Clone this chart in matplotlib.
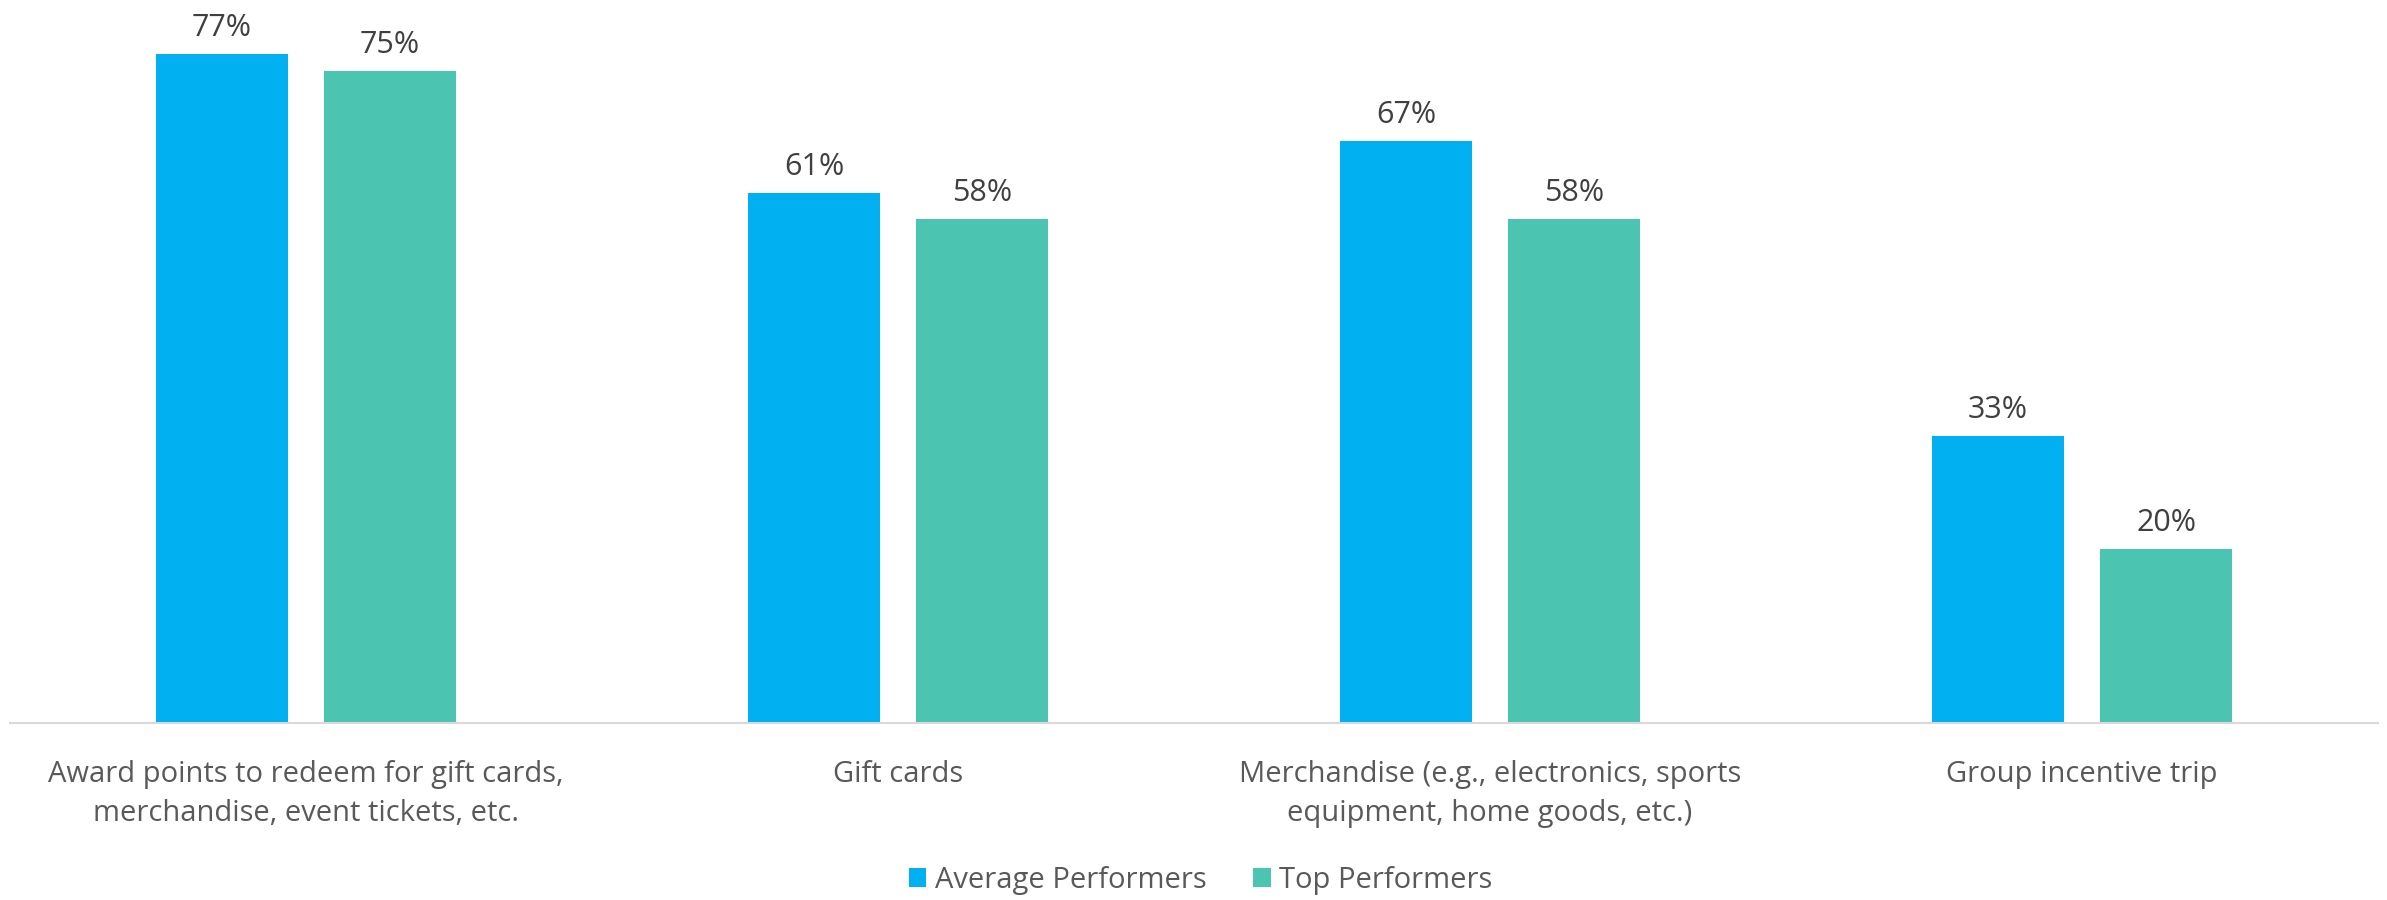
import numpy as np
import matplotlib.pyplot as plt

plt.rcParams['font.family'] = ['Open Sans', 'DejaVu Sans']

# 数据
categories = ['Award points to redeem for gift cards,\nmerchandise, event tickets, etc.',
              'Gift cards',
              'Merchandise (e.g., electronics, sports\nequipment, home goods, etc.)',
              'Group incentive trip']
average = [77, 61, 67, 33]
top = [75, 58, 58, 20]
series_names = ['Average Performers', 'Top Performers']
colors = ['#00B0F0', '#4BC4B2']

fig = plt.figure(figsize=(23.87, 9), dpi=100)
ax = fig.add_axes([0.0042, 0.197, 0.992, 0.803])

x = np.arange(len(categories))
w = 0.222
off = 0.142
b1 = ax.bar(x - off, average, w, color=colors[0], label=series_names[0])
b2 = ax.bar(x + off, top, w, color=colors[1], label=series_names[1])

# 柱顶数值
for bars in (b1, b2):
    for b in bars:
        ax.annotate('%d%%' % b.get_height(), (b.get_x() + b.get_width() / 2, b.get_height()),
                    xytext=(0, 8), textcoords='offset points', ha='center', va='bottom',
                    fontsize=22, color='#404040')

ax.set_xlim(-0.5, 3.5)
ax.set_ylim(0, 83.2)
ax.set_xticks(x)
ax.set_xticklabels(categories, fontsize=21, color='#595959', linespacing=1.45)
ax.tick_params(axis='x', length=0, pad=27)
ax.set_yticks([])
for s in ['top', 'right', 'left']:
    ax.spines[s].set_visible(False)
ax.spines['bottom'].set_color('#D9D9D9')
ax.spines['bottom'].set_linewidth(1.5)

leg = fig.legend(loc='center', bbox_to_anchor=(0.503, 0.022), ncol=2, frameon=False,
                 fontsize=21, handlelength=0.6, handleheight=0.6, handletextpad=0.3,
                 columnspacing=1.6, labelcolor='#595959')

fig.savefig('out.png', dpi=100)
